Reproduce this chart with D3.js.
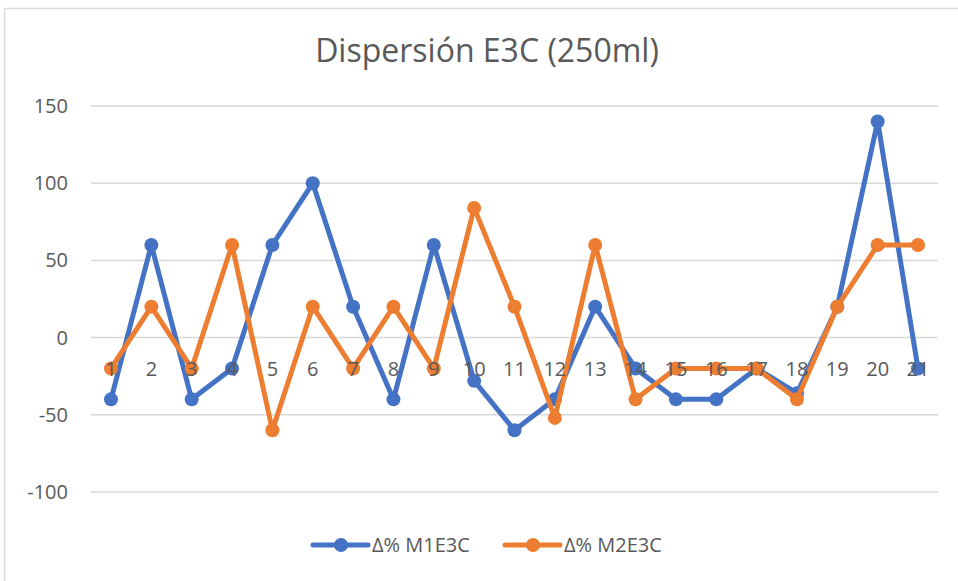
<!DOCTYPE html>
<html><head><meta charset="utf-8">
<script src="https://cdn.jsdelivr.net/npm/d3@7/dist/d3.min.js"></script>
<style>body{margin:0;background:#fff}svg{display:block}text{font-family:"Open Sans","Liberation Sans",sans-serif;fill:#595959}</style>
</head><body><svg id="c" width="958" height="581"></svg>
<script>
const categories = d3.range(1,22).map(String);
const m1 = [-40,60,-40,-20,60,100,20,-40,60,-28,-60,-40,20,-20,-40,-40,-20,-36,20,140,-20];
const m2 = [-20,20,-20,60,-60,20,-20,20,-20,84,20,-52,60,-40,-20,-20,-20,-40,20,60,60];
const yTicks = [-100,-50,0,50,100,150];
const seriesNames = ["Δ% M1E3C","Δ% M2E3C"];
const colors = ["#4472C4","#ED7D31"];

const svg = d3.select("#c");
svg.append("rect").attr("x",4.5).attr("y",8.5).attr("width",980).attr("height",600)
  .attr("fill","#fff").attr("stroke","#d9d9d9").attr("stroke-width",1.5);

const x0 = 91, x1 = 938;
const x = d3.scalePoint().domain(categories).range([111,918]);
const y = d3.scaleLinear().domain([-100,150]).range([492,106]);

svg.append("text").attr("x",487).attr("y",62).attr("text-anchor","middle")
  .style("font-size","32px").text("Dispersión E3C (250ml)");

const g = svg.append("g");
g.selectAll("line.grid").data(yTicks).join("line")
  .attr("x1",x0).attr("x2",x1).attr("y1",d=>y(d)).attr("y2",d=>y(d))
  .attr("stroke","#d9d9d9").attr("stroke-width",1.5);
g.selectAll("text.yl").data(yTicks).join("text")
  .attr("x",68).attr("y",d=>y(d)+7).attr("text-anchor","end")
  .style("font-size","20px").text(d=>d);

[m1,m2].forEach((vals,i)=>{
  const data = vals.map((v,j)=>({c:categories[j],v}));
  g.append("path").datum(data).attr("fill","none").attr("stroke",colors[i])
    .attr("stroke-width",5).attr("stroke-linejoin","round")
    .attr("d",d3.line().x(d=>x(d.c)).y(d=>y(d.v)));
  g.selectAll("circle.s"+i).data(data).join("circle")
    .attr("cx",d=>x(d.c)).attr("cy",d=>y(d.v)).attr("r",7).attr("fill",colors[i]);
});

// category labels near zero axis, drawn on top
svg.append("g").selectAll("text").data(categories).join("text")
  .attr("x",d=>x(d)).attr("y",y(0)+38).attr("text-anchor","middle")
  .style("font-size","20px").text(d=>d);

// legend
const leg = [{x:313},{x:505}];
seriesNames.forEach((n,i)=>{
  const lx = leg[i].x, ly = 545;
  svg.append("line").attr("x1",lx).attr("x2",lx+55).attr("y1",ly).attr("y2",ly)
    .attr("stroke",colors[i]).attr("stroke-width",5).attr("stroke-linecap","round");
  svg.append("circle").attr("cx",lx+28).attr("cy",ly).attr("r",7).attr("fill",colors[i]);
  svg.append("text").attr("x",lx+59).attr("y",ly+7).style("font-size","20px").text(n);
});
</script></body></html>
